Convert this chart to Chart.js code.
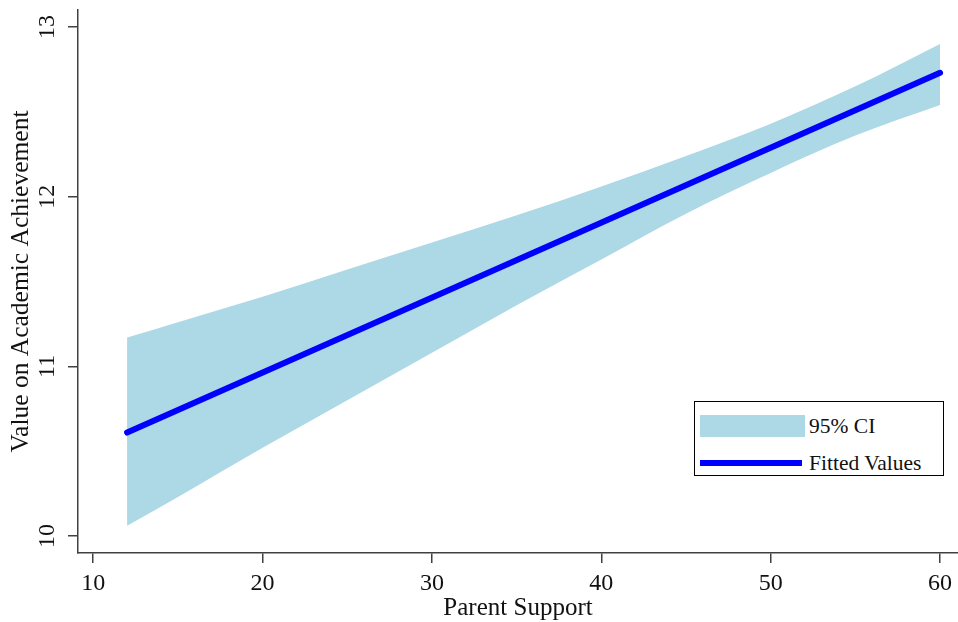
<!DOCTYPE html>
<html lang="en">
<head>
    <meta charset="UTF-8">
    <title>Parent Support and Academic Achievement</title>
    <script src="https://cdn.jsdelivr.net/npm/chart.js"></script>
    <style>
        body {
            margin: 0;
            padding: 0;
            background-color: #fff;
            font-family: "Liberation Serif", "Times New Roman", serif;
        }
        #wrap {
            position: relative;
            width: 958px;
            height: 622px;
        }
        #legend {
            position: absolute;
            left: 694px;
            top: 401px;
            width: 250px;
            height: 75px;
            border: 1px solid #000;
            box-sizing: border-box;
            background: #fff;
            font-size: 21.5px;
            color: #111;
        }
        .item {
            position: absolute;
            left: 5px;
            height: 24px;
            display: flex;
            align-items: center;
        }
        .sw {
            width: 105px;
            margin-right: 4px;
        }
    </style>
</head>
<body>
<div id="wrap">
    <canvas id="chart" width="958" height="622"></canvas>
    <div id="legend"></div>
</div>

<script>
    // data
    const xVals = [12, 15, 20, 25, 30, 35, 40, 45, 50, 55, 60];
    const ciUpper = [11.17, 11.26, 11.41, 11.57, 11.73, 11.89, 12.06, 12.24, 12.43, 12.65, 12.90];
    const ciLower = [10.06, 10.23, 10.52, 10.80, 11.08, 11.36, 11.63, 11.90, 12.14, 12.36, 12.54];
    const fitX = [12, 60];
    const fitY = [10.61, 12.73];
    const xTicks = [10, 20, 30, 40, 50, 60];
    const yTicks = [10, 11, 12, 13];

    const ciColor = '#add8e6';
    const fitColor = '#0000ff';
    const axisColor = '#404040';
    const serif = '"Liberation Serif", "Times New Roman", serif';

    const pts = (xs, ys) => xs.map((x, i) => ({ x: x, y: ys[i] }));

    const chart = new Chart(document.getElementById('chart'), {
        type: 'line',
        data: {
            datasets: [
                {
                    label: 'Fitted Values',
                    data: pts(fitX, fitY),
                    borderColor: fitColor,
                    borderWidth: 6,
                    borderCapStyle: 'round',
                    pointRadius: 0,
                    fill: false
                },
                {
                    label: '95% CI',
                    data: pts(xVals, ciUpper),
                    borderWidth: 0,
                    borderColor: ciColor,
                    backgroundColor: ciColor,
                    cubicInterpolationMode: 'monotone',
                    pointRadius: 0,
                    fill: '+1'
                },
                {
                    label: 'ci lower',
                    data: pts(xVals, ciLower),
                    borderWidth: 0,
                    borderColor: ciColor,
                    cubicInterpolationMode: 'monotone',
                    pointRadius: 0,
                    fill: false
                }
            ]
        },
        options: {
            responsive: false,
            animation: false,
            layout: { padding: { top: 10, right: 0, left: 0, bottom: 0 } },
            plugins: {
                legend: { display: false },
                tooltip: { enabled: false }
            },
            scales: {
                x: {
                    type: 'linear',
                    min: 9.1,
                    max: 61.06,
                    afterBuildTicks: s => { s.ticks = xTicks.map(v => ({ value: v })); },
                    afterFit: s => { s.height = 69; s.paddingLeft = 0; s.paddingRight = 0; },
                    grid: { drawOnChartArea: false, drawTicks: true, tickLength: 10, color: axisColor, lineWidth: 1.5 },
                    border: { display: true, color: axisColor, width: 1.5 },
                    ticks: { color: '#111', padding: 6, maxRotation: 0, font: { family: serif, size: 24 } },
                    title: {
                        display: true,
                        text: 'Parent Support',
                        color: '#111',
                        font: { family: serif, size: 25, lineHeight: 1 },
                        padding: { top: 0, bottom: 1 }
                    }
                },
                y: {
                    min: 9.9,
                    max: 13.1,
                    afterBuildTicks: s => { s.ticks = yTicks.map(v => ({ value: v })); },
                    afterFit: s => { s.width = 78; s.paddingTop = 0; s.paddingBottom = 0; },
                    grid: { drawOnChartArea: false, drawTicks: true, tickLength: 10, color: axisColor, lineWidth: 1.5 },
                    border: { display: true, color: axisColor, width: 1.5 },
                    ticks: {
                        color: '#111',
                        padding: 8,
                        minRotation: 90,
                        maxRotation: 90,
                        crossAlign: 'center',
                        font: { family: serif, size: 24 }
                    },
                    title: {
                        display: true,
                        text: 'Value on Academic Achievement',
                        color: '#111',
                        font: { family: serif, size: 25.5, lineHeight: 1 },
                        padding: { top: 9, bottom: 0 }
                    }
                }
            }
        }
    });

    // legend box inside the plot, built from the datasets
    const legend = document.getElementById('legend');
    const ciSet = chart.data.datasets[1];
    const fitSet = chart.data.datasets[0];
    legend.innerHTML =
        '<div class="item" style="top:12px"><div class="sw" style="height:22px;background:' + ciSet.backgroundColor + '"></div>' + ciSet.label + '</div>' +
        '<div class="item" style="top:49px"><div class="sw" style="height:6px;width:102px;margin-right:7px;background:' + fitSet.borderColor + '"></div>' + fitSet.label + '</div>';
</script>
</body>
</html>
